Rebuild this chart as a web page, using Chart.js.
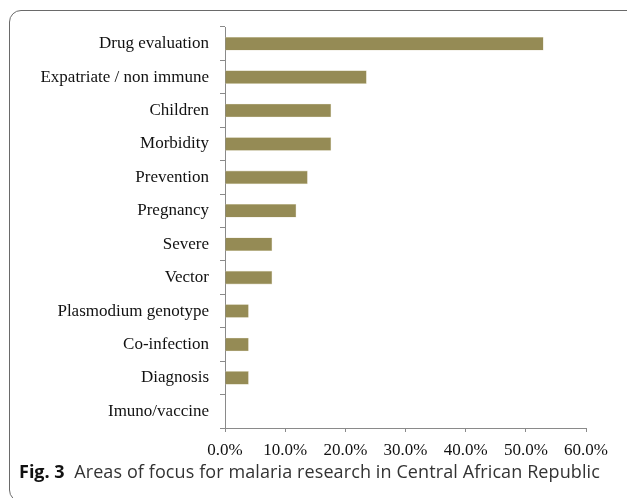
<!DOCTYPE html>
<html>
<head>
<meta charset="utf-8">
<script src="https://cdn.jsdelivr.net/npm/chart.js@4.4.0/dist/chart.umd.min.js"></script>
<style>
  html, body { margin: 0; padding: 0; background: #fff; width: 627px; height: 498px; overflow: hidden; }
  #frame { position: absolute; left: 9px; top: 10px; width: 640px; height: 492px; border: 1.5px solid #6a6a6a; border-radius: 12px; box-sizing: border-box; }
  #wrap { position: absolute; left: 0; top: 0; width: 627px; height: 465px; }
  #caption { position: absolute; left: 19px; top: 459px; font-family: "Open Sans", sans-serif; font-size: 18px; color: #333; white-space: nowrap; letter-spacing: 0.1px; }
  #caption b { color: #111; font-weight: 700; font-size: 18px; letter-spacing: 0; }
</style>
</head>
<body>
<div id="frame"></div>
<div id="wrap"><canvas id="c" width="627" height="465"></canvas></div>
<div id="caption"><b>Fig. 3</b>&nbsp;&nbsp;Areas of focus for malaria research in Central African Republic</div>
<script>
const categories = ["Drug evaluation", "Expatriate / non immune", "Children", "Morbidity", "Prevention", "Pregnancy", "Severe", "Vector", "Plasmodium genotype", "Co-infection", "Diagnosis", "Imuno/vaccine"];
const values = [52.9, 23.5, 17.6, 17.6, 13.7, 11.8, 7.8, 7.8, 3.9, 3.9, 3.9, 0];
const xTicks = [0, 10, 20, 30, 40, 50, 60];

new Chart(document.getElementById('c'), {
  type: 'bar',
  data: {
    labels: categories,
    datasets: [{
      data: values,
      backgroundColor: '#958b55',
      borderColor: '#d9d4bb',
      borderWidth: 0.6,
      borderSkipped: 'left',
      barThickness: 13
    }]
  },
  options: {
    indexAxis: 'y',
    responsive: false,
    animation: false,
    layout: { padding: { top: 27, right: 41, left: 0, bottom: 0 } },
    plugins: { legend: { display: false }, tooltip: { enabled: false } },
    scales: {
      x: {
        min: 0, max: 60,
        afterBuildTicks: s => { s.ticks = xTicks.map(v => ({ value: v })); },
        ticks: {
          callback: v => v.toFixed(1) + '%',
          color: '#111',
          font: { family: '"Liberation Serif", serif', size: 17 },
          padding: 8,
          maxRotation: 0
        },
        grid: { drawOnChartArea: false, drawTicks: true, tickLength: 4, color: '#8a8a8a' },
        border: { display: true, color: '#8a8a8a', width: 1 },
        afterFit: s => { s.height = 37; }
      },
      y: {
        ticks: {
          color: '#111',
          font: { family: '"Liberation Serif", serif', size: 17 },
          padding: 11
        },
        grid: { drawOnChartArea: false, drawTicks: true, tickLength: 5, color: '#8a8a8a', offset: true },
        border: { display: true, color: '#8a8a8a', width: 1 },
        afterFit: s => { s.width = 225; }
      }
    }
  }
});
</script>
</body>
</html>
